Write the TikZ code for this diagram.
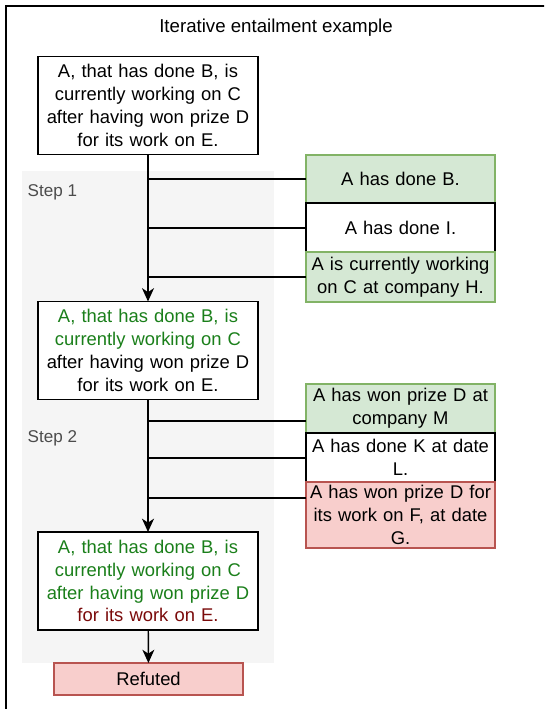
\documentclass[tikz,border=0pt]{standalone}
\usepackage{fontspec}
\setmainfont{Liberation Sans}
\usetikzlibrary{arrows.meta,positioning,calc}
\definecolor{HoldGreen}{HTML}{D5E8D4}
\definecolor{HoldGreenLine}{HTML}{82B366}
\definecolor{FailRed}{HTML}{F8CECC}
\definecolor{FailRedLine}{HTML}{B85450}
\definecolor{HoldText}{HTML}{1A7F1A}
\definecolor{FailText}{HTML}{7A0A0A}
\definecolor{StepGray}{HTML}{F5F5F5}

\begin{document}
\begin{tikzpicture}[
  x=0.75pt, y=-0.75pt,
  claim/.style={draw=black, line width=1.1pt, fill=white, align=center, inner sep=0pt, outer sep=0pt, text width=165pt, minimum height=73.5pt, font=\fontsize{13.8}{17.2}\selectfont},
  fact/.style={draw=black, line width=1.1pt, fill=white, align=center, inner sep=0pt, outer sep=0pt, text width=141.75pt, minimum height=36.75pt, font=\fontsize{13.8}{17.2}\selectfont},
  support/.style={fact, draw=HoldGreenLine, fill=HoldGreen},
  conflict/.style={fact, draw=FailRedLine, fill=FailRed},
  steplabel/.style={anchor=west, text=black!70, font=\fontsize{12.8}{15}\selectfont},
  link/.style={line width=1.1pt},
  arrow/.style={-{Stealth[length=10pt,width=9pt,inset=3pt]}, line width=1.1pt}
]
\useasboundingbox (0,0) rectangle (544,709);
\begin{scope}
  \clip (0,0) rectangle (544,709);
  \draw[line width=1.5pt] (6,6) rectangle (620,780);
\end{scope}
\fill[StepGray] (22,171) rectangle (274,663);
\node[font=\fontsize{14}{16}\selectfont] (title) at (276,28) {Iterative entailment example};

% claim after each step
\node[claim] (claim0) at (148,105.5) {A, that has done B, is\\currently working on C\\after having won prize D\\for its work on E.};
\node[claim] (claim1) at (148,350.5) {\textcolor{HoldText}{A, that has done B, is}\\\textcolor{HoldText}{currently working on C}\\after having won prize D\\for its work on E.};
\node[claim] (claim2) at (148,581) {\textcolor{HoldText}{A, that has done B, is}\\\textcolor{HoldText}{currently working on C}\\\textcolor{HoldText}{after having won prize D}\\\textcolor{FailText}{for its work on E.}};
\node[conflict, text width=141.75pt, minimum height=24pt] (verdict) at (148.5,679) {Refuted};

\node[steplabel] (step1) at (23,192) {Step 1};
\node[steplabel] (step2) at (23,438) {Step 2};

% retrieved facts, step 1
\node[support, minimum height=36pt] (fact1) at (400.5,179) {A has done B.};
\node[fact, below=0pt of fact1] (fact2) {A has done I.};
\node[support, minimum height=37.5pt, below=0pt of fact2] (fact3) {A is currently working\\on C at company H.};

% retrieved facts, step 2
\node[support] (fact4) at (400.5,408.5) {A has won prize D at\\company M};
\node[fact, below=0pt of fact4] (fact5) {A has done K at date\\L.};
\node[conflict, minimum height=49.5pt, below=0pt of fact5] (fact6) {A has won prize D for\\its work on F, at date\\G.};

\draw[arrow] (claim0) -- (claim1);
\draw[link] (fact1.west) -- (fact1.west -| claim0.south);
\draw[link] ($(fact2.west)+(0,0.5)$) -- ($(fact2.west -| claim0.south)+(0,0.5)$);
\draw[link] (fact3.west) -- (fact3.west -| claim0.south);

\draw[arrow] (claim1) -- (claim2);
\draw[link] ($(fact4.west)+(0,12.5)$) -- ($(fact4.west -| claim1.south)+(0,12.5)$);
\draw[link] ($(fact5.west)+(0,0.5)$) -- ($(fact5.west -| claim1.south)+(0,0.5)$);
\draw[link] ($(fact6.west)+(0,-17)$) -- ($(fact6.west -| claim1.south)+(0,-17)$);

\draw[arrow] (claim2) -- (verdict);
\end{tikzpicture}
\end{document}
